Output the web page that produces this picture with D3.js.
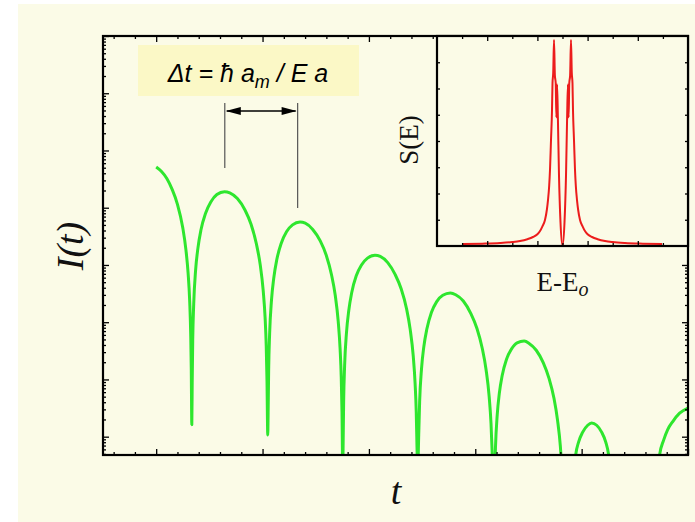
<!DOCTYPE html>
<html>
<head>
<meta charset="utf-8">
<script src="https://cdn.jsdelivr.net/npm/d3@7"></script>
<style>
  html, body { margin: 0; padding: 0; background: #ffffff; }
  svg { display: block; }
</style>
</head>
<body>
<svg id="chart" width="695" height="522"></svg>
<script>
// Decaying beat signal: time (arb. units) and log10 of the intensity I(t)
const timeSamples = [
  0, 0.05, 0.10, 0.15, 0.20, 0.25, 0.28, 0.30, 0.315, 0.325, 0.330, 0.335,
  0.3386, 0.3436, 0.3529, 0.3707, 0.3921, 0.4207, 0.4635, 0.5135, 0.5706, 0.6420, 0.692,
  0.7634, 0.8348, 0.8919, 0.9419, 0.9776, 1.0062, 1.0240, 1.0347, 1.0419, 1.049,
  1.0525, 1.0575, 1.0666, 1.0843, 1.1054, 1.1336, 1.1759, 1.2253, 1.2817, 1.3522, 1.4015,
  1.472, 1.5425, 1.5989, 1.6483, 1.6835, 1.7117, 1.7293, 1.7399, 1.747, 1.754,
  1.7575, 1.7625, 1.7716, 1.7893, 1.8104, 1.8386, 1.8809, 1.9303, 1.9867, 2.0572, 2.1065,
  2.177, 2.2475, 2.3039, 2.3533, 2.3885, 2.4167, 2.4343, 2.4449, 2.452, 2.459,
  2.4676, 2.4769, 2.4947, 2.5161, 2.5447, 2.5875, 2.6375, 2.6946, 2.766, 2.816,
  2.8874, 2.9588, 3.0159, 3.0659, 3.1016, 3.1302, 3.148, 3.1587, 3.173,
  3.181, 3.1897, 3.2064, 3.2264, 3.253, 3.293, 3.3398, 3.3931, 3.4598, 3.5065,
  3.5732, 3.6399, 3.6933, 3.740, 3.7733, 3.800, 3.8167, 3.840,
  3.925, 3.944, 3.972, 4.010, 4.057, 4.094, 4.141, 4.188, 4.226, 4.254, 4.275,
  4.50,
  4.715, 4.733, 4.771, 4.808, 4.855, 4.921, 5.0
];
const logIntensity = [
  -2.29, -2.368, -2.49, -2.68, -2.94, -3.35, -3.74, -4.14, -4.63, -5.25, -5.84, -6.79,
  -6.06, -5.31, -4.68, -4.09, -3.71, -3.39, -3.10, -2.90, -2.77, -2.72, -2.74,
  -2.84, -3.04, -3.29, -3.63, -3.99, -4.45, -4.92, -5.42, -6.03, -6.97,
  -6.58, -5.83, -5.20, -4.61, -4.23, -3.91, -3.62, -3.42, -3.30, -3.25, -3.27,
  -3.38, -3.58, -3.83, -4.17, -4.53, -4.99, -5.47, -5.96, -6.57, -7.6,
  -7.15, -6.39, -5.76, -5.18, -4.80, -4.48, -4.19, -4.00, -3.88, -3.83, -3.85,
  -3.96, -4.17, -4.42, -4.76, -5.13, -5.59, -6.07, -6.56, -7.17, -7.6,
  -7.02, -6.39, -5.81, -5.43, -5.12, -4.83, -4.64, -4.53, -4.49, -4.52,
  -4.63, -4.85, -5.11, -5.46, -5.83, -6.29, -6.77, -7.27, -7.8,
  -7.82, -7.20, -6.62, -6.24, -5.93, -5.65, -5.47, -5.36, -5.33, -5.37,
  -5.49, -5.71, -5.98, -6.33, -6.71, -7.17, -7.66, -8.0,
  -7.7, -7.32, -7.09, -6.92, -6.80, -6.76, -6.80, -6.92, -7.09, -7.32, -7.7,
  -9.0,
  -7.7, -7.32, -7.06, -6.88, -6.74, -6.59, -6.50
];

// Neighbouring maxima bracketed by the Δt arrow
const deltaMarks = [0.645, 1.33];

// Inset: spectrum S(E) against E - E0
const energySamples = [
  -1.982, -1.6, -1.245, -1.0, -0.847, -0.70, -0.588, -0.50, -0.448, -0.40, -0.349, -0.31,
  -0.289, -0.265, -0.249, -0.229, -0.209, -0.199, -0.185, -0.169, -0.152, -0.135, -0.122,
  -0.108, -0.092, -0.070, -0.040, 0,
  0.040, 0.070, 0.092, 0.108, 0.122, 0.135, 0.152, 0.169, 0.185, 0.199, 0.209, 0.229,
  0.249, 0.265, 0.289, 0.31, 0.349, 0.40, 0.448, 0.50, 0.588, 0.70, 0.847, 1.0, 1.245,
  1.6, 1.982
];
const spectrumValues = [
  0.076, 0.09, 0.114, 0.15, 0.19, 0.26, 0.343, 0.45, 0.571, 0.75, 0.99, 1.4,
  1.75, 2.3, 2.9, 4.04, 5.18, 6.21, 6.6, 7.85, 6.5, 6.2, 4.9,
  6.15, 4.9, 2.7, 0.91, 0.02,
  0.91, 2.7, 4.9, 6.15, 4.9, 6.2, 6.5, 7.85, 6.6, 6.21, 5.18, 4.04,
  2.9, 2.3, 1.75, 1.4, 0.99, 0.75, 0.571, 0.45, 0.343, 0.26, 0.19, 0.15, 0.114,
  0.09, 0.076
];

// Tick positions
const timeMajorTicks = [0, 1, 2, 3, 4, 5];
const logDecades = [-7, -6, -5, -4, -3, -2, -1, 0];
const energyMajorTicks = [-1.5, -0.5, 0.5, 1.5];
const energyMinorTicks = [-2, -1, 0, 1, 2];
const spectrumTicks = [1, 2, 3, 4, 5, 6, 7];

const svg = d3.select("#chart");
const W = 695, H = 522;

// layout
const M = { left: 103, right: 688, top: 36, bottom: 455 };
const INSET = { left: 437, right: 688, top: 36, bottom: 246 };

svg.append("rect").attr("x", 18).attr("y", 4).attr("width", W - 18).attr("height", H - 4)
  .attr("fill", "#fbfbe7");

// scales
const x = d3.scaleLinear().domain([-0.5, 5]).range([M.left, M.right]);
const y = d3.scaleLog().domain([Math.pow(10, -7.32), 1]).range([M.bottom, M.top]);
const xi = d3.scaleLinear().domain([-2.5, 2.5]).range([INSET.left, INSET.right]);
const yi = d3.scaleLinear().domain([0, 8]).range([INSET.bottom, INSET.top]);

const defs = svg.append("defs");
defs.append("clipPath").attr("id", "clipMain").append("rect")
  .attr("x", M.left).attr("y", M.top).attr("width", M.right - M.left).attr("height", M.bottom - M.top);
defs.append("clipPath").attr("id", "clipInset").append("rect")
  .attr("x", INSET.left).attr("y", INSET.top).attr("width", INSET.right - INSET.left).attr("height", INSET.bottom - INSET.top);

// main curve
const mainData = timeSamples.map((t, i) => ({ t, v: Math.pow(10, logIntensity[i]) }));
const line = d3.line().x(d => x(d.t)).y(d => y(d.v)).curve(d3.curveMonotoneX);
svg.append("path").datum(mainData)
  .attr("clip-path", "url(#clipMain)")
  .attr("d", line)
  .attr("fill", "none").attr("stroke", "#2ee62e").attr("stroke-width", 3)
  .attr("stroke-linejoin", "round");

// main axes (ticks point inwards)
const minorTimeTicks = d3.range(-0.4, 5.0, 0.2).map(v => +v.toFixed(2))
  .filter(v => Math.abs(v - Math.round(v)) > 1e-6);
const logMajor = logDecades.map(k => Math.pow(10, k));
const logMinor = [];
logDecades.forEach(k => { for (let m = 2; m <= 9; m++) { const v = m * Math.pow(10, k - 1); if (v >= y.domain()[0]) logMinor.push(v); } });

function tickLayer(axis, transform, values, size) {
  const g = svg.append("g").attr("transform", transform)
    .call(axis.tickValues(values).tickSize(-size).tickFormat(""));
  g.select(".domain").remove();
  g.selectAll(".tick line").attr("stroke", "#000").attr("stroke-width", 1.3);
  return g;
}
tickLayer(d3.axisBottom(x), `translate(0,${M.bottom})`, timeMajorTicks, 6);
tickLayer(d3.axisBottom(x), `translate(0,${M.bottom})`, minorTimeTicks, 3);
const topTime = timeMajorTicks.filter(v => x(v) < INSET.left - 2);
const topTimeMinor = minorTimeTicks.filter(v => x(v) < INSET.left - 2);
tickLayer(d3.axisTop(x), `translate(0,${M.top})`, topTime, 6);
tickLayer(d3.axisTop(x), `translate(0,${M.top})`, topTimeMinor, 3);
tickLayer(d3.axisLeft(y), `translate(${M.left},0)`, logMajor, 6);
tickLayer(d3.axisLeft(y), `translate(${M.left},0)`, logMinor, 3);
tickLayer(d3.axisRight(y), `translate(${M.right},0)`, logMajor.filter(v => y(v) > INSET.bottom + 2), 6);
tickLayer(d3.axisRight(y), `translate(${M.right},0)`, logMinor.filter(v => y(v) > INSET.bottom + 2), 3);

// main frame
svg.append("rect").attr("x", M.left).attr("y", M.top)
  .attr("width", M.right - M.left).attr("height", M.bottom - M.top)
  .attr("fill", "none").attr("stroke", "#000").attr("stroke-width", 2.2);

// inset panel
svg.append("rect").attr("x", INSET.left).attr("y", INSET.top)
  .attr("width", INSET.right - INSET.left).attr("height", INSET.bottom - INSET.top)
  .attr("fill", "#fbfbe7");
const specData = energySamples.map((e, i) => ({ e, s: spectrumValues[i] }));
svg.append("path").datum(specData)
  .attr("clip-path", "url(#clipInset)")
  .attr("d", d3.line().x(d => xi(d.e)).y(d => yi(d.s)).curve(d3.curveMonotoneX))
  .attr("fill", "none").attr("stroke", "#ec1c1c").attr("stroke-width", 2)
  .attr("stroke-linejoin", "round");

tickLayer(d3.axisBottom(xi), `translate(0,${INSET.bottom})`, energyMajorTicks, 5);
tickLayer(d3.axisBottom(xi), `translate(0,${INSET.bottom})`, energyMinorTicks, 3);
tickLayer(d3.axisTop(xi), `translate(0,${INSET.top})`, energyMajorTicks, 5);
tickLayer(d3.axisTop(xi), `translate(0,${INSET.top})`, energyMinorTicks, 3);
tickLayer(d3.axisLeft(yi), `translate(${INSET.left},0)`, spectrumTicks, 3);
tickLayer(d3.axisRight(yi), `translate(${INSET.right},0)`, spectrumTicks, 3);

svg.append("rect").attr("x", INSET.left).attr("y", INSET.top)
  .attr("width", INSET.right - INSET.left).attr("height", INSET.bottom - INSET.top)
  .attr("fill", "none").attr("stroke", "#000").attr("stroke-width", 2.2);

// Δt formula box
svg.append("rect").attr("x", 138).attr("y", 45).attr("width", 221).attr("height", 51)
  .attr("fill", "#fbf8c6");
const formula = svg.append("text").attr("x", 248).attr("y", 82)
  .attr("text-anchor", "middle")
  .attr("font-family", "'Liberation Sans', Arial, sans-serif")
  .attr("font-style", "italic").attr("font-size", 25).attr("fill", "#000");
formula.append("tspan").text("\u0394t = \u0127 a");
formula.append("tspan").attr("font-size", 18).attr("dy", 6).text("m");
formula.append("tspan").attr("dy", -6).text(" / E a");

// Δt arrow between two neighbouring maxima
const [xa, xb] = deltaMarks.map(x);
svg.append("line").attr("x1", xa).attr("x2", xa).attr("y1", 103).attr("y2", 168)
  .attr("stroke", "#555").attr("stroke-width", 1.2);
svg.append("line").attr("x1", xb).attr("x2", xb).attr("y1", 103).attr("y2", 208)
  .attr("stroke", "#555").attr("stroke-width", 1.2);
const ay = 111;
svg.append("line").attr("x1", xa + 2).attr("x2", xb - 2).attr("y1", ay).attr("y2", ay)
  .attr("stroke", "#000").attr("stroke-width", 1.3);
svg.append("path")
  .attr("d", `M${xa + 1},${ay} L${xa + 16},${ay - 4} L${xa + 16},${ay + 4} Z`)
  .attr("fill", "#000");
svg.append("path")
  .attr("d", `M${xb - 1},${ay} L${xb - 16},${ay - 4} L${xb - 16},${ay + 4} Z`)
  .attr("fill", "#000");

// axis titles
const serif = "'Liberation Serif', 'Times New Roman', serif";
svg.append("text").attr("transform", "translate(83,246) rotate(-90)")
  .attr("text-anchor", "middle").attr("font-family", serif)
  .attr("font-style", "italic").attr("font-size", 38).attr("fill", "#111")
  .text("I(t)");
svg.append("text").attr("x", 396).attr("y", 504)
  .attr("text-anchor", "middle").attr("font-family", serif)
  .attr("font-style", "italic").attr("font-size", 38).attr("fill", "#111")
  .text("t");
svg.append("text").attr("transform", "translate(418,140) rotate(-90)")
  .attr("text-anchor", "middle").attr("font-family", serif)
  .attr("font-size", 27).attr("fill", "#111")
  .text("S(E)");
const el = svg.append("text").attr("x", xi(0)).attr("y", 291)
  .attr("text-anchor", "middle").attr("font-family", serif)
  .attr("font-size", 27).attr("fill", "#111");
el.append("tspan").text("E-E");
el.append("tspan").attr("font-style", "italic").attr("font-size", 20).attr("dy", 5).text("o");
</script>
</body>
</html>
